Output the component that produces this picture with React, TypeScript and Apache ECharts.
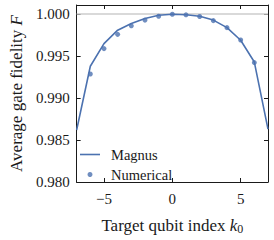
import React, { useEffect, useRef } from "react";
import * as echarts from "echarts";

const kMagnus = [-7, -6, -5, -4, -3, -2, -1, 0, 1, 2, 3, 4, 5, 6, 7];
const magnus = [0.9862, 0.9938, 0.9965, 0.9981, 0.9989, 0.9995, 0.99987, 1.0, 0.99993, 0.99975, 0.9993, 0.9984, 0.9969, 0.9943, 0.9863];
const kNumerical = [-6, -5, -4, -3, -2, -1, 0, 1, 2, 3, 4, 5, 6];
const numerical = [0.99287, 0.9959, 0.9976, 0.99862, 0.9993, 0.99976, 1.0, 0.99993, 0.99973, 0.99924, 0.9984, 0.99693, 0.99424];
const xTicks = [-5, 0, 5];
const yTicks = [0.98, 0.985, 0.99, 0.995, 1.0];
const seriesNames = ["Magnus", "Numerical"];

const BLUE = "#4C72B0";
const FONT = "'Liberation Serif', 'DejaVu Serif', serif";
const FS = 15;
const NFS = 17;
const LFS = 14.5;
const INK = "#1a1a1a";

export default function App() {
  const ref = useRef<HTMLDivElement>(null);
  useEffect(() => {
    if (!ref.current) return;
    const chart = echarts.init(ref.current, undefined, { renderer: "svg" });
    const axisCommon = {
      axisLine: { show: true, onZero: false, lineStyle: { color: INK, width: 1 } },
      splitLine: { show: false },
    };
    chart.setOption({
      animation: false,
      textStyle: { fontFamily: FONT },
      grid: { left: 69, right: 6, top: 5, bottom: 48, containLabel: false },
      legend: {
        orient: "vertical",
        left: 80,
        top: 145.5,
        itemWidth: 20,
        itemHeight: 5,
        itemGap: 2,
        padding: 0,
        selectedMode: false,
        textStyle: { fontFamily: FONT, fontSize: LFS, color: INK, lineHeight: 18, padding: [0, 0, 0, 6] },
        data: [
          { name: seriesNames[0], icon: "path://M0,0H20V1.6H0Z" },
          { name: seriesNames[1], icon: "circle" },
        ],
      },
      xAxis: [
        {
          type: "value",
          min: -7,
          max: 7,
          ...axisCommon,
          axisTick: { show: true, inside: true, length: 4, customValues: xTicks, lineStyle: { color: INK } },
          axisLabel: {
            customValues: xTicks,
            margin: 9,
            fontFamily: FONT,
            fontSize: FS,
            color: INK,
            formatter: (v: number) => (v < 0 ? "\u2212" + Math.abs(v) : String(v)),
          },
          name: "{n|Target qubit index }{k|k}{s|0}",
          nameLocation: "middle",
          nameGap: 34,
          nameTextStyle: {
            fontFamily: FONT,
            rich: {
              n: { fontFamily: FONT, fontSize: NFS, color: INK },
              k: { fontFamily: FONT, fontSize: NFS, color: INK, fontStyle: "italic" },
              s: { fontFamily: FONT, fontSize: 12, color: INK, verticalAlign: "bottom", padding: [7, 0, 0, 0] },
            },
          },
        },
        {
          type: "value",
          position: "top",
          min: -7,
          max: 7,
          ...axisCommon,
          axisTick: { show: true, inside: true, length: 4, customValues: xTicks, lineStyle: { color: INK } },
          axisLabel: { show: false },
        },
      ],
      yAxis: [
        {
          type: "value",
          min: 0.98,
          max: 1.0011,
          ...axisCommon,
          axisTick: { show: true, inside: true, length: 4, customValues: yTicks, lineStyle: { color: INK } },
          axisLabel: {
            customValues: yTicks,
            margin: 7,
            fontFamily: FONT,
            fontSize: FS,
            color: INK,
            formatter: (v: number) => v.toFixed(3),
          },
          name: "{n|Average gate fidelity }{f|F}",
          nameLocation: "middle",
          nameGap: 48,
          nameRotate: 90,
          nameTextStyle: {
            fontFamily: FONT,
            rich: {
              n: { fontFamily: FONT, fontSize: NFS, color: INK },
              f: { fontFamily: FONT, fontSize: NFS, color: INK, fontStyle: "italic" },
            },
          },
        },
        {
          type: "value",
          position: "right",
          min: 0.98,
          max: 1.0011,
          ...axisCommon,
          axisTick: { show: true, inside: true, length: 4, customValues: yTicks, lineStyle: { color: INK } },
          axisLabel: { show: false },
        },
      ],
      series: [
        {
          name: seriesNames[0],
          type: "line",
          data: kMagnus.map((k, i) => [k, magnus[i]]),
          symbol: "none",
          showSymbol: false,
          color: BLUE,
          lineStyle: { color: BLUE, width: 1.6 },
          z: 3,
          clip: true,
          markLine: {
            silent: true,
            symbol: "none",
            label: { show: false },
            lineStyle: { color: "#cccccc", width: 1.5, type: "solid" },
            data: [{ yAxis: 1.0 }],
            z: 1,
          },
        },
        {
          name: seriesNames[1],
          type: "scatter",
          data: kNumerical.map((k, i) => [k, numerical[i]]),
          symbol: "circle",
          symbolSize: 5,
          color: BLUE,
          itemStyle: { color: BLUE },
          z: 4,
        },
      ],
    });
    return () => chart.dispose();
  }, []);
  return <div ref={ref} style={{ width: 274, height: 240, position: "absolute", left: 0, top: 0 }} />;
}
